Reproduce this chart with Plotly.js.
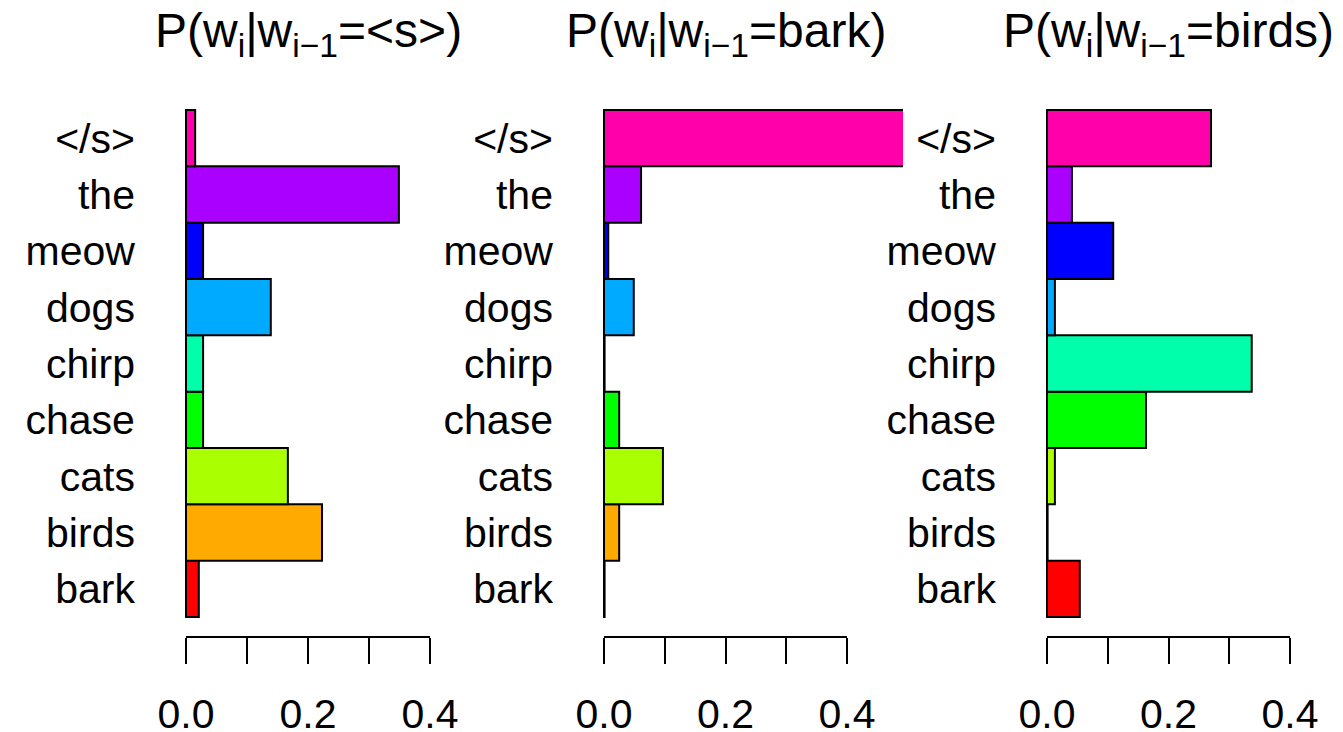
<!DOCTYPE html>
<html>
<head>
<meta charset="utf-8">
<script src="https://cdn.plot.ly/plotly-3.0.1.min.js"></script>
<style>html,body{margin:0;padding:0;background:#fff}#chart{width:1343px;height:732px}</style>
</head>
<body>
<div id="chart"></div>
<script>
// Data (bottom to top)
const categories = ["bark", "birds", "cats", "chase", "chirp", "dogs", "meow", "the", "&lt;/s&gt;"];
const barColors = ["#FF0000", "#FFAA00", "#AAFF00", "#00FF00", "#00FFAA", "#00AAFF", "#0000FF", "#AA00FF", "#FF00AA"];
const probStart = [0.021, 0.223, 0.167, 0.028, 0.028, 0.139, 0.028, 0.349, 0.015];
const probBark  = [0.001, 0.025, 0.097, 0.025, 0.001, 0.049, 0.007, 0.061, 0.55];
const probBirds = [0.054, 0.001, 0.013, 0.163, 0.337, 0.013, 0.109, 0.041, 0.270];
const panelTitles = [
  "P(w<sub>i</sub>|w<sub>i\u22121</sub>=&lt;s&gt;)",
  "P(w<sub>i</sub>|w<sub>i\u22121</sub>=bark)",
  "P(w<sub>i</sub>|w<sub>i\u22121</sub>=birds)"
];
const tickVals = [0, 0.2, 0.4];
const tickText = ["0.0", "0.2", "0.4"];

const W = 1343, H = 732;
const FONT = "Liberation Sans, Arial, Helvetica, sans-serif";
const fx = p => p / W;
const yDomain = [1 - 636 / H, 1 - 107 / H];
const yRange = [-0.837, 8.553];

// panel geometry: zero pixel, pixels per unit, right edge pixel
const panels = [
  {zero: 186, ppu: 610, right: 186 + 0.5 * 610},
  {zero: 604, ppu: 607.5, right: 903},
  {zero: 1047, ppu: 607.5, right: 1343}
];
const series = [probStart, probBark, probBirds];

const data = [];
const layout = {
  width: W, height: H,
  margin: {l: 0, r: 0, t: 0, b: 0},
  paper_bgcolor: "#fff", plot_bgcolor: "rgba(0,0,0,0)",
  showlegend: false,
  font: {family: FONT, color: "#000", size: 41},
  annotations: []
};

panels.forEach((p, i) => {
  const n = i + 1;
  const xd = n === 1 ? "x" : "x" + n;
  const yd = n === 1 ? "y" : "y" + n;
  const xs = n === 1 ? "xaxis" : "xaxis" + n;
  const ys = n === 1 ? "yaxis" : "yaxis" + n;
  const dispN = n + 3;
  const pad = 0.005;
  data.push({
    type: "bar", orientation: "h",
    x: series[i], y: categories,
    xaxis: xd, yaxis: yd,
    width: 1,
    marker: {color: barColors, line: {color: "#000", width: 2}},
    hoverinfo: "skip"
  });
  // invisible helper trace to register display axis
  data.push({
    type: "scatter", mode: "markers", x: [0], y: [categories[0]],
    xaxis: "x" + dispN, yaxis: yd,
    marker: {opacity: 0, size: 1}, hoverinfo: "skip"
  });
  layout[xs] = {
    domain: [fx(p.zero - pad * p.ppu), fx(p.right)],
    range: [-pad, (p.right - p.zero) / p.ppu],
    anchor: yd,
    showline: false, showgrid: false, zeroline: false,
    ticks: "", showticklabels: false, fixedrange: true
  };
  layout["xaxis" + dispN] = {
    domain: [fx(p.zero), fx(p.zero + 0.4 * p.ppu)],
    range: [0, 0.4],
    anchor: yd,
    showline: true, linecolor: "#000", linewidth: 2,
    showgrid: false, zeroline: false,
    ticks: "outside", ticklen: 26, tickwidth: 2, tickcolor: "#000",
    tickmode: "array", tickvals: tickVals, ticktext: tickText,
    minor: {ticks: "outside", ticklen: 26, tickwidth: 2, tickcolor: "#000", dtick: 0.1, tick0: 0, showgrid: false},
    ticklabelstandoff: 15,
    tickfont: {family: FONT, size: 41, color: "#000"},
    fixedrange: true
  };
  layout[ys] = {
    domain: yDomain,
    anchor: xd,
    type: "category",
    categoryorder: "array", categoryarray: categories,
    range: yRange,
    showline: false, showgrid: false, zeroline: false,
    ticks: "", ticklabelstandoff: 47,
    tickfont: {family: FONT, size: 41, color: "#000"},
    fixedrange: true
  };
  layout.annotations.push({
    xref: "paper", yref: "paper",
    x: fx(p.zero + 0.2 * p.ppu), y: 1 - 34 / H,
    xanchor: "center", yanchor: "middle",
    text: panelTitles[i], showarrow: false,
    font: {family: FONT, size: 48, color: "#000"}
  });
});

Plotly.newPlot("chart", data, layout, {displayModeBar: false, staticPlot: true});
</script>
</body>
</html>
